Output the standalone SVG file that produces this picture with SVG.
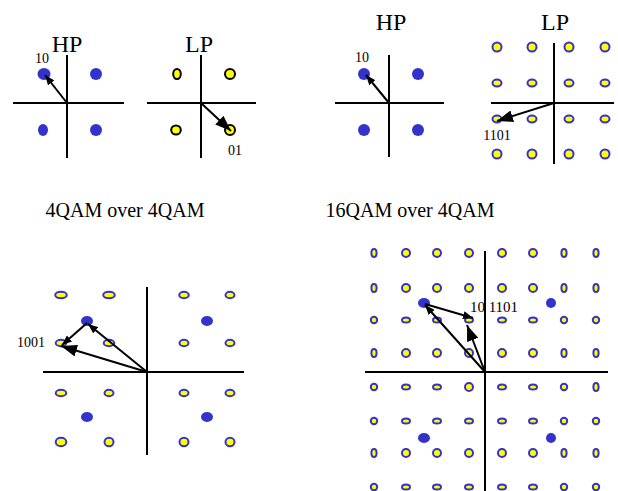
<svg xmlns="http://www.w3.org/2000/svg" width="618" height="491" viewBox="0 0 618 491">
<defs>
<style>
.ax{stroke:#000;stroke-width:2;fill:none}
.b{fill:#3333cc;stroke:none}
.yk{fill:#ffff00;stroke:#000;stroke-width:2}
.yb{fill:#ffff00;stroke:#3333cc;stroke-width:2}
.ar{stroke:#000;stroke-width:2;fill:none}
.t{font-family:"Liberation Serif","Times New Roman",serif;fill:#000;text-anchor:middle}
</style>
<marker id="ah" viewBox="0 0 10 8" refX="10" refY="4" markerWidth="10" markerHeight="8" orient="auto" markerUnits="userSpaceOnUse"><path d="M0,0 L10,4 L0,8 z" fill="#000"/></marker>
<marker id="ahL" viewBox="0 0 16 12" refX="16" refY="6" markerWidth="16" markerHeight="12" orient="auto" markerUnits="userSpaceOnUse"><path d="M0,0 L16,6 L0,12 z" fill="#000"/></marker>
</defs>

<g id="panel-hp-4qam">
<line class="ax" x1="13" y1="103" x2="124" y2="103"/>
<line class="ax" x1="67" y1="55" x2="67" y2="158"/>
<ellipse class="b" cx="44" cy="74" rx="6.5" ry="6"/>
<ellipse class="b" cx="96" cy="74" rx="6" ry="6"/>
<ellipse class="b" cx="43" cy="130" rx="5" ry="6"/>
<ellipse class="b" cx="96" cy="130" rx="6" ry="6"/>
<text class="t" x="67" y="52" font-size="24">HP</text>
<text class="t" x="42" y="63" font-size="14">10</text>
</g>

<g id="panel-lp-4qam">
<line class="ax" x1="147" y1="103" x2="256" y2="103"/>
<line class="ax" x1="201" y1="55" x2="201" y2="158"/>
<ellipse class="yk" cx="177" cy="74" rx="3.8" ry="5"/>
<ellipse class="yk" cx="230" cy="74" rx="5" ry="5"/>
<ellipse class="yk" cx="176" cy="130" rx="4.8" ry="4.5"/>
<ellipse class="yk" cx="230" cy="130" rx="5" ry="5"/>
<text class="t" x="199" y="52" font-size="24">LP</text>
<text class="t" x="235" y="155" font-size="14">01</text>
</g>

<g id="panel-hp-16qam">
<line class="ax" x1="335" y1="103" x2="444" y2="103"/>
<line class="ax" x1="389" y1="55" x2="389" y2="157"/>
<ellipse class="b" cx="364" cy="74" rx="6" ry="6"/>
<ellipse class="b" cx="418" cy="74" rx="6" ry="6"/>
<ellipse class="b" cx="364" cy="130" rx="6" ry="6"/>
<ellipse class="b" cx="418" cy="130" rx="6" ry="6"/>
<text class="t" x="391" y="30" font-size="24">HP</text>
<text class="t" x="362" y="62" font-size="14">10</text>
</g>

<g id="panel-lp-16qam">
<line class="ax" x1="491" y1="103" x2="614" y2="103"/>
<line class="ax" x1="554" y1="43" x2="554" y2="164"/>
<circle class="yb" cx="497" cy="47" r="4.5"/><circle class="yb" cx="532" cy="47" r="4.5"/><circle class="yb" cx="569" cy="47" r="4.5"/><circle class="yb" cx="605" cy="47" r="4.5"/>
<ellipse class="yb" cx="497" cy="83" rx="4.5" ry="3.4"/><ellipse class="yb" cx="532" cy="83" rx="4.5" ry="3.4"/><ellipse class="yb" cx="569" cy="83" rx="4.5" ry="3.4"/><ellipse class="yb" cx="605" cy="83" rx="4.5" ry="3.4"/>
<ellipse class="yb" cx="497" cy="119" rx="4.5" ry="3.4"/><ellipse class="yb" cx="532" cy="119" rx="4.5" ry="3.4"/><ellipse class="yb" cx="569" cy="119" rx="4.5" ry="3.4"/><ellipse class="yb" cx="605" cy="119" rx="4.5" ry="3.4"/>
<circle class="yb" cx="497" cy="154" r="4.5"/><circle class="yb" cx="532" cy="154" r="4.5"/><circle class="yb" cx="569" cy="154" r="4.5"/><circle class="yb" cx="605" cy="154" r="4.5"/>
<text class="t" x="555" y="30" font-size="24">LP</text>
<text class="t" x="497" y="140" font-size="14">1101</text>
</g>

<g id="caption-left"><text class="t" x="125" y="217" font-size="20">4QAM over 4QAM</text></g>
<g id="caption-right"><text class="t" x="410" y="217" font-size="20">16QAM over 4QAM</text></g>

<g id="panel-4qam-over-4qam">
<line class="ax" x1="43" y1="372" x2="244" y2="372"/>
<line class="ax" x1="147" y1="287" x2="147" y2="455"/>
<ellipse class="yb" cx="61" cy="295" rx="5.8" ry="3.2"/><ellipse class="yb" cx="109" cy="295" rx="5.8" ry="3.2"/><ellipse class="yb" cx="184" cy="295" rx="4.8" ry="3.2"/><ellipse class="yb" cx="230" cy="295" rx="4.5" ry="3.2"/>
<ellipse class="yb" cx="61" cy="343" rx="5.3" ry="3.2"/><ellipse class="yb" cx="109" cy="343" rx="5.3" ry="3.2"/><ellipse class="yb" cx="184" cy="343" rx="4.5" ry="3.2"/><ellipse class="yb" cx="230" cy="343" rx="4.5" ry="3.2"/>
<ellipse class="yb" cx="61" cy="393" rx="5.3" ry="3.2"/><ellipse class="yb" cx="109" cy="393" rx="4.5" ry="3.2"/><ellipse class="yb" cx="184" cy="393" rx="4.5" ry="3.2"/><ellipse class="yb" cx="230" cy="393" rx="4.5" ry="3.2"/>
<ellipse class="yb" cx="61" cy="442" rx="5.3" ry="4.3"/><ellipse class="yb" cx="109" cy="442" rx="4.5" ry="4.3"/><ellipse class="yb" cx="184" cy="442" rx="4.5" ry="4.3"/><ellipse class="yb" cx="230" cy="442" rx="4.5" ry="4.3"/>
<ellipse class="b" cx="87" cy="321" rx="6" ry="5"/><ellipse class="b" cx="207" cy="321" rx="6" ry="5"/>
<ellipse class="b" cx="87" cy="417" rx="6" ry="5"/><ellipse class="b" cx="207" cy="417" rx="6" ry="5"/>
<text class="t" x="31" y="347" font-size="14">1001</text>
</g>

<g id="panel-16qam-over-4qam">
<line class="ax" x1="365" y1="372" x2="608" y2="372"/>
<line class="ax" x1="485" y1="251" x2="485" y2="491"/>
<g class="yb">
<ellipse cx="374" cy="253" rx="2.6" ry="4"/><circle cx="406" cy="253" r="4"/><circle cx="437" cy="253" r="4"/><circle cx="469" cy="253" r="4"/><circle cx="502" cy="253" r="4"/><circle cx="533" cy="253" r="4"/><ellipse cx="564" cy="253" rx="2.6" ry="4"/><ellipse cx="596" cy="253" rx="2.6" ry="4"/>
<ellipse cx="374" cy="288" rx="2.6" ry="4"/><circle cx="406" cy="288" r="4"/><circle cx="437" cy="288" r="4"/><circle cx="469" cy="288" r="4"/><circle cx="502" cy="288" r="4"/><circle cx="533" cy="288" r="4"/><ellipse cx="564" cy="288" rx="2.6" ry="4"/><ellipse cx="596" cy="288" rx="2.6" ry="4"/>
<circle cx="374" cy="320" r="3.2"/><ellipse cx="406" cy="320" rx="4" ry="2.6"/><ellipse cx="437" cy="320" rx="4" ry="2.6"/><ellipse cx="469" cy="320" rx="4" ry="2.6"/><ellipse cx="502" cy="320" rx="4" ry="2.6"/><ellipse cx="533" cy="320" rx="4" ry="2.6"/><circle cx="564" cy="320" r="3.2"/><circle cx="596" cy="320" r="3.2"/>
<ellipse cx="374" cy="353" rx="2.6" ry="4"/><circle cx="406" cy="353" r="4"/><circle cx="437" cy="353" r="4"/><circle cx="469" cy="353" r="4"/><circle cx="502" cy="353" r="4"/><circle cx="533" cy="353" r="4"/><ellipse cx="564" cy="353" rx="2.6" ry="4"/><ellipse cx="596" cy="353" rx="2.6" ry="4"/>
<circle cx="374" cy="387" r="3.2"/><ellipse cx="406" cy="387" rx="4" ry="2.6"/><ellipse cx="437" cy="387" rx="4" ry="2.6"/><circle cx="469" cy="387" r="4"/><ellipse cx="502" cy="387" rx="4" ry="2.6"/><ellipse cx="533" cy="387" rx="4" ry="2.6"/><circle cx="564" cy="387" r="3.2"/><ellipse cx="596" cy="387" rx="2.6" ry="4"/>
<circle cx="374" cy="421" r="3.2"/><ellipse cx="406" cy="421" rx="4" ry="2.6"/><ellipse cx="437" cy="421" rx="4" ry="2.6"/><ellipse cx="469" cy="421" rx="4" ry="2.6"/><ellipse cx="502" cy="421" rx="4" ry="2.6"/><ellipse cx="533" cy="421" rx="4" ry="2.6"/><circle cx="564" cy="421" r="3.2"/><circle cx="596" cy="421" r="3.2"/>
<ellipse cx="374" cy="453" rx="2.6" ry="4"/><circle cx="406" cy="453" r="4"/><circle cx="437" cy="453" r="4"/><circle cx="469" cy="453" r="4"/><circle cx="502" cy="453" r="4"/><circle cx="533" cy="453" r="4"/><ellipse cx="564" cy="453" rx="2.6" ry="4"/><ellipse cx="596" cy="453" rx="2.6" ry="4"/>
<circle cx="374" cy="487" r="3.2"/><ellipse cx="406" cy="487" rx="4" ry="2.6"/><ellipse cx="437" cy="487" rx="4" ry="2.6"/><ellipse cx="469" cy="487" rx="4" ry="2.6"/><ellipse cx="502" cy="487" rx="4" ry="2.6"/><ellipse cx="533" cy="487" rx="4" ry="2.6"/><circle cx="564" cy="487" r="3.2"/><circle cx="596" cy="487" r="3.2"/>
</g>
<ellipse class="b" cx="424" cy="303" rx="6" ry="5"/><ellipse class="b" cx="551" cy="303" rx="5" ry="5"/>
<ellipse class="b" cx="424" cy="438" rx="6" ry="5"/><ellipse class="b" cx="551" cy="438" rx="5" ry="5"/>
<text class="t" x="494" y="312" font-size="15">10 1101</text>
</g>

<g id="connectors">
<line class="ar" x1="67" y1="103" x2="45" y2="75" marker-end="url(#ah)"/>
<line class="ar" x1="201" y1="103" x2="231" y2="131" stroke-width="3" marker-end="url(#ahL)"/>
<line class="ar" x1="389" y1="103" x2="366" y2="75" marker-end="url(#ah)"/>
<line class="ar" x1="554" y1="103" x2="497" y2="121" marker-end="url(#ahL)"/>
<line class="ar" x1="147" y1="372" x2="88" y2="324" marker-end="url(#ah)"/>
<line class="ar" x1="87" y1="323" x2="62" y2="345" marker-end="url(#ah)"/>
<line class="ar" x1="147" y1="372" x2="61" y2="346" marker-end="url(#ahL)"/>
<line class="ar" x1="485" y1="372" x2="425" y2="305" marker-end="url(#ah)"/>
<line class="ar" x1="425" y1="304" x2="473" y2="318" marker-end="url(#ah)"/>
<line class="ar" x1="485" y1="372" x2="467" y2="325" marker-end="url(#ahL)"/>
</g>
</svg>
